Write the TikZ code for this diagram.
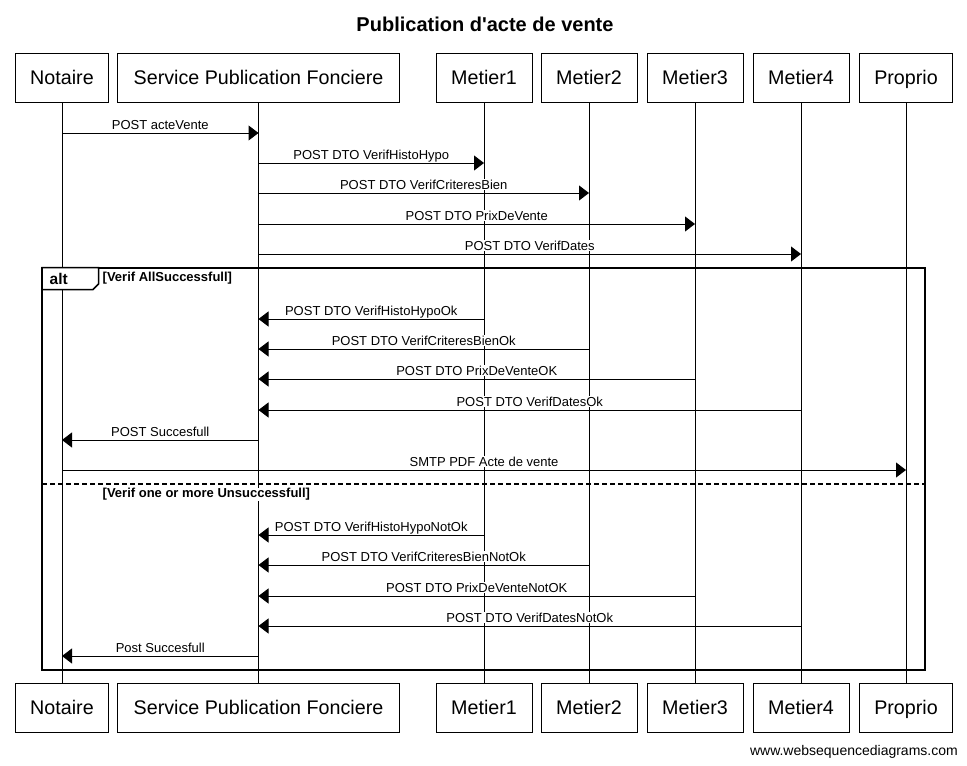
\documentclass[tikz,border=0pt]{standalone}
\usepackage{fontspec}
\setmainfont{Liberation Sans}[Ligatures=TeXOff]
\usetikzlibrary{arrows.meta}
\begin{document}
\begin{tikzpicture}[x=1pt,y=-1pt,
  part/.style={draw, line width=1pt, minimum height=49pt, inner sep=0pt, text height=14pt, text depth=0pt, font=\fontsize{19.7}{22}\selectfont},
  life/.style={line width=1pt},
  msg/.style={line width=1pt, -{Triangle[length=10pt,width=15pt]}},
  lbl/.style={fill=white, inner sep=0.5pt, anchor=base, yshift=4pt, font=\fontsize{13}{15}\selectfont},
  guard/.style={fill=white, inner sep=0.5pt, anchor=base west, font=\bfseries\fontsize{13}{15}\selectfont},
]
\useasboundingbox (0,0) rectangle (967,766);

\node[font=\bfseries\fontsize{20}{24}\selectfont, anchor=base] (title) at (485,31) {Publication d'acte de vente};

% participants top
\node[part, minimum width=93pt] (notT) at (62,77.5) {Notaire};
\node[part, minimum width=282pt] (spfT) at (258.5,77.5) {Service Publication Fonciere};
\node[part, minimum width=96pt] (m1T) at (484,77.5) {Metier1};
\node[part, minimum width=96pt] (m2T) at (589,77.5) {Metier2};
\node[part, minimum width=96pt] (m3T) at (695,77.5) {Metier3};
\node[part, minimum width=96pt] (m4T) at (801,77.5) {Metier4};
\node[part, minimum width=93pt] (proT) at (906,77.5) {Proprio};
% participants bottom
\node[part, minimum width=93pt] (notB) at (62,707.5) {Notaire};
\node[part, minimum width=282pt] (spfB) at (258.5,707.5) {Service Publication Fonciere};
\node[part, minimum width=96pt] (m1B) at (484,707.5) {Metier1};
\node[part, minimum width=96pt] (m2B) at (589,707.5) {Metier2};
\node[part, minimum width=96pt] (m3B) at (695,707.5) {Metier3};
\node[part, minimum width=96pt] (m4B) at (801,707.5) {Metier4};
\node[part, minimum width=93pt] (proB) at (906,707.5) {Proprio};

% lifelines
\draw[life] (notT.south) -- (notB.north);
\draw[life] (spfT.south) -- (spfB.north);
\draw[life] (m1T.south) -- (m1B.north);
\draw[life] (m2T.south) -- (m2B.north);
\draw[life] (m3T.south) -- (m3B.north);
\draw[life] (m4T.south) -- (m4B.north);
\draw[life] (proT.south) -- (proB.north);

% alt frame
\draw[line width=2pt] (42,267.5) rectangle (925,670);
\filldraw[fill=white, line width=1.5pt] (42,267.5) -- (98.5,267.5) -- (98.5,284) -- (93,289.5) -- (42,289.5) -- cycle;
\node[anchor=base west, inner sep=0pt, font=\bfseries\fontsize{15.5}{18}\selectfont] (alt) at (49.5,284) {alt};
\node[guard] (g1) at (102,281.5) {[Verif AllSuccessfull]};
\draw[line width=2pt, dash pattern=on 5pt off 3pt] (42,484) -- (925,484);
\node[guard] (g2) at (102,497.5) {[Verif one or more Unsuccessfull]};

% messages
\draw[msg] (notT.south |- 0,133) -- node[lbl] (l1) {POST acteVente} (spfT.south |- 0,133);
\draw[msg] (spfT.south |- 0,163) -- node[lbl] (l2) {POST DTO VerifHistoHypo} (m1T.south |- 0,163);
\draw[msg] (spfT.south |- 0,193) -- node[lbl] (l3) {POST DTO VerifCriteresBien} (m2T.south |- 0,193);
\draw[msg] (spfT.south |- 0,224) -- node[lbl] (l4) {POST DTO PrixDeVente} (m3T.south |- 0,224);
\draw[msg] (spfT.south |- 0,254) -- node[lbl] (l5) {POST DTO VerifDates} (m4T.south |- 0,254);
\draw[msg] (m1T.south |- 0,319) -- node[lbl] (l6) {POST DTO VerifHistoHypoOk} (spfT.south |- 0,319);
\draw[msg] (m2T.south |- 0,349) -- node[lbl] (l7) {POST DTO VerifCriteresBienOk} (spfT.south |- 0,349);
\draw[msg] (m3T.south |- 0,379) -- node[lbl] (l8) {POST DTO PrixDeVenteOK} (spfT.south |- 0,379);
\draw[msg] (m4T.south |- 0,410) -- node[lbl] (l9) {POST DTO VerifDatesOk} (spfT.south |- 0,410);
\draw[msg] (spfT.south |- 0,440) -- node[lbl] (l10) {POST Succesfull} (notT.south |- 0,440);
\draw[msg] (notT.south |- 0,470) -- node[lbl] (l11) {SMTP PDF Acte de vente} (proT.south |- 0,470);
\draw[msg] (m1T.south |- 0,535) -- node[lbl] (l12) {POST DTO VerifHistoHypoNotOk} (spfT.south |- 0,535);
\draw[msg] (m2T.south |- 0,565) -- node[lbl] (l13) {POST DTO VerifCriteresBienNotOk} (spfT.south |- 0,565);
\draw[msg] (m3T.south |- 0,596) -- node[lbl] (l14) {POST DTO PrixDeVenteNotOK} (spfT.south |- 0,596);
\draw[msg] (m4T.south |- 0,626) -- node[lbl] (l15) {POST DTO VerifDatesNotOk} (spfT.south |- 0,626);
\draw[msg] (spfT.south |- 0,656) -- node[lbl] (l16) {Post Succesfull} (notT.south |- 0,656);

\node[anchor=base east, inner sep=0pt, font=\fontsize{14}{16}\selectfont] (wm) at (958,755) {www.websequencediagrams.com};
\end{tikzpicture}
\end{document}
